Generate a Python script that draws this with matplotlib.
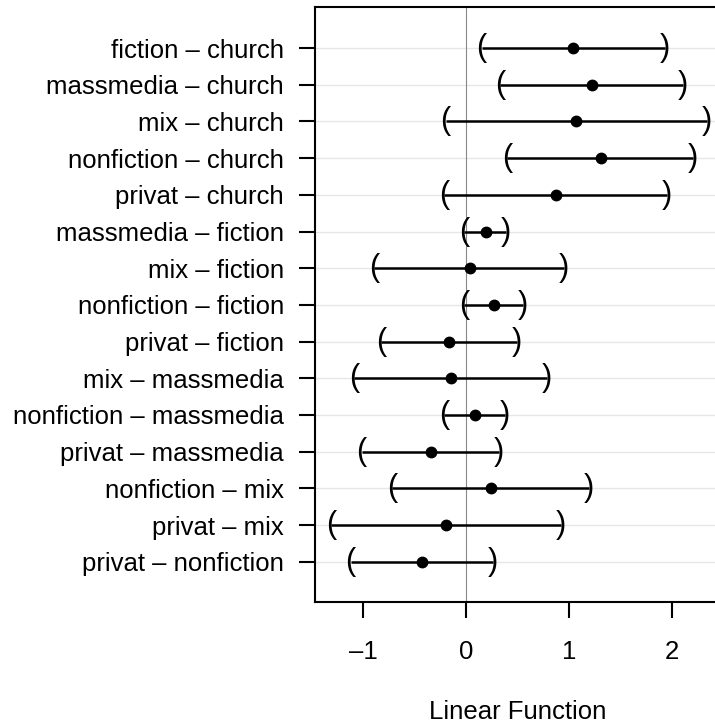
import matplotlib.pyplot as plt

plt.rcParams['font.family'] = ['Liberation Sans', 'DejaVu Sans']

# comparisons, top to bottom
labels = [
    "fiction – church", "massmedia – church", "mix – church",
    "nonfiction – church", "privat – church", "massmedia – fiction",
    "mix – fiction", "nonfiction – fiction", "privat – fiction",
    "mix – massmedia", "nonfiction – massmedia", "privat – massmedia",
    "nonfiction – mix", "privat – mix", "privat – nonfiction",
]
estimate = [1.042, 1.227, 1.071, 1.307, 0.874, 0.191, 0.039, 0.272,
            -0.162, -0.146, 0.087, -0.340, 0.240, -0.194, -0.424]
lower = [0.152, 0.330, -0.197, 0.401, -0.210, -0.020, -0.893, -0.020,
         -0.825, -1.084, -0.210, -1.013, -0.715, -1.311, -1.120]
upper = [1.932, 2.110, 2.343, 2.207, 1.948, 0.388, 0.955, 0.550,
         0.492, 0.789, 0.379, 0.320, 1.197, 0.922, 0.259]
xticks = [-1, 0, 1, 2]

n = len(labels)
ypos = [n - i for i in range(n)]

fig = plt.figure(figsize=(7.15, 7.24), dpi=100)
ax = fig.add_axes([0.441, 0.169, 0.575, 0.8214])

for y in ypos:
    ax.axhline(y, color='#e6e6e6', lw=1, zorder=0)
ax.axvline(0, color='#888888', lw=0.8, zorder=1)

ax.hlines(ypos, lower, upper, color='black', lw=1.8, zorder=2)
ax.plot(estimate, ypos, 'o', color='black', ms=7.5, zorder=3)
for y, lo, hi in zip(ypos, lower, upper):
    ax.text(lo, y, "(", ha='center', va='center', fontsize=22, zorder=3)
    ax.text(hi, y, ")", ha='center', va='center', fontsize=22, zorder=3)

ax.set_xlim(-1.463, 2.53)
ax.set_ylim(-0.087, 16.12)
ax.set_yticks(ypos)
ax.set_yticklabels(labels)
ax.set_xticks(xticks)
ax.set_xticklabels(["–1", "0", "1", "2"])
ax.tick_params(axis='both', labelsize=18.5, length=11.5, width=1.5,
               direction='out', pad=11)
ax.tick_params(axis='x', pad=16)
for s in ax.spines.values():
    s.set_linewidth(1.5)

fig.text(518 / 715, 1 - 711.7 / 724, "Linear Function", ha='center',
         va='center', fontsize=18.5)

fig.savefig("out.png", dpi=100)
